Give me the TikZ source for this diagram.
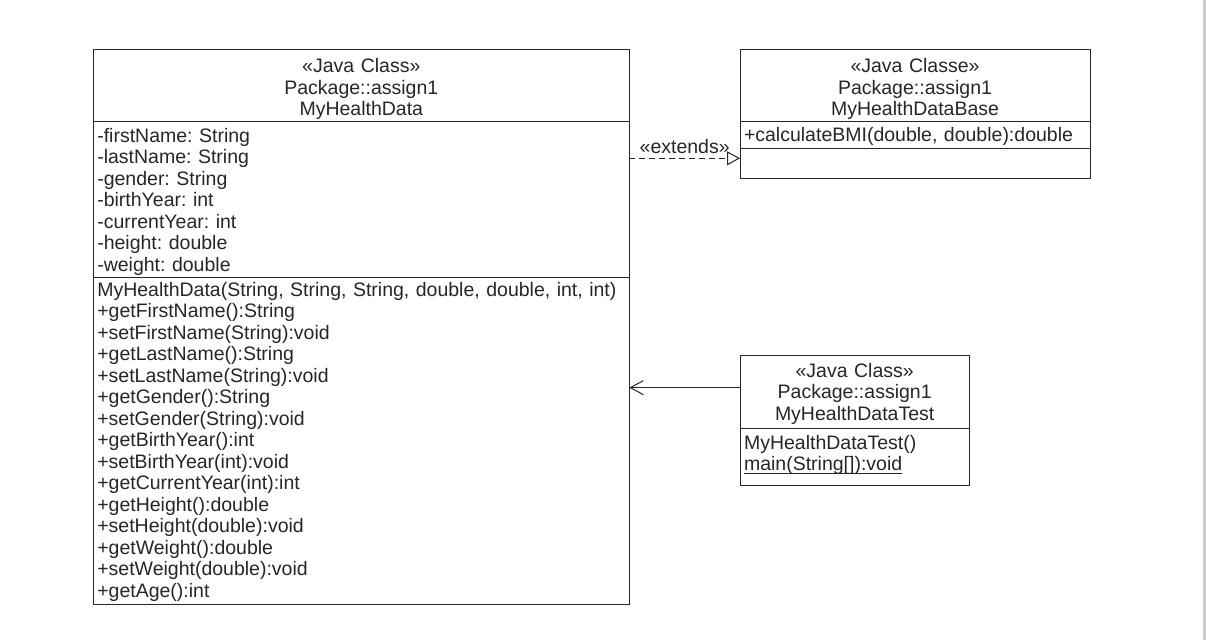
\documentclass[tikz,border=0pt]{standalone}
\usepackage{fontspec}
\setmainfont{Liberation Sans}
\usetikzlibrary{arrows.meta,positioning}

\definecolor{umlgray}{RGB}{38,38,38}
\definecolor{edgegray}{RGB}{205,205,209}
\newcommand{\umlfont}{\fontsize{19.5pt}{21.5pt}\selectfont\frenchspacing}
% static members are underlined close to the baseline
\newcommand{\staticop}[1]{\leavevmode\setbox0\hbox{#1}\rlap{\rule[-3pt]{\wd0}{1pt}}\box0}

\tikzset{
  compart/.style={draw=umlgray, line width=1pt, inner xsep=4pt, inner ysep=0pt,
    outer sep=0pt, anchor=north west, font=\umlfont, text=umlgray, align=left},
  classhead/.style={compart, align=center},
  rows/.style 2 args={text height=#1pt, text depth=#2pt},
  extendsarrow/.style={draw=umlgray, line width=1pt, dash pattern=on 6pt off 4pt,
    -{Triangle[open, length=13pt, width=14pt, fill=white]}},
  usearrow/.style={draw=umlgray, line width=1pt,
    -{Straight Barb[length=13pt, width=14pt]}},
}

\begin{document}
\begin{tikzpicture}[x=1pt, y=-1pt]
  \useasboundingbox (0,0) rectangle (1206,640);
  \fill[edgegray] (1203,0) rectangle (1206,640);

  % MyHealthData
  \node[classhead, text width=528pt, rows={23.5}{48.9}] (datahead) at (93.3,49.3)
    {«Java Class»\\Package::assign1\\MyHealthData};
  \node[compart, text width=528pt, rows={20.3}{135.7}] (dataattr) at (datahead.south west)
    {-firstName: String\\-lastName: String\\-gender: String\\-birthYear: int\\
     -currentYear: int\\-height: double\\-weight: double};
  \node[compart, text width=528pt, rows={18.3}{308.3}] (dataops) at (dataattr.south west)
    {MyHealthData(String, String, String, double, double, int, int)\\
     +getFirstName():String\\+setFirstName(String):void\\
     +getLastName():String\\+setLastName(String):void\\
     +getGender():String\\+setGender(String):void\\
     +getBirthYear():int\\+setBirthYear(int):void\\
     +getCurrentYear(int):int\\
     +getHeight():double\\+setHeight(double):void\\
     +getWeight():double\\+setWeight(double):void\\
     +getAge():int};

  % MyHealthDataBase
  \node[classhead, text width=342pt, rows={23.5}{48.9}] (basehead) at (740,49.3)
    {«Java Classe»\\Package::assign1\\MyHealthDataBase};
  \node[compart, text width=342pt, rows={20}{6.6}] (baseops) at (basehead.south west)
    {+calculateBMI(double, double):double};
  \node[compart, text width=342pt, rows={0}{30}] (baseempty) at (baseops.south west) {};

  % MyHealthDataTest
  \node[classhead, text width=221.3pt, rows={22.3}{51}] (testhead) at (740,355)
    {«Java Class»\\Package::assign1\\MyHealthDataTest};
  \node[compart, text width=221.3pt, rows={20.7}{36}] (testops) at (testhead.south west)
    {MyHealthDataTest()\\\staticop{main(String[]):void}};

  % connectors
  \coordinate (extend) at ([yshift=5pt]baseempty.west);
  \draw[extendsarrow] (extend -| dataattr.east) -- (extend)
    node[midway, above, inner sep=4pt, font=\umlfont, text=umlgray] (extlabel) {«extends»};
  \coordinate (uses) at ([yshift=4pt]testhead.west);
  \draw[usearrow] (uses) -- (uses -| dataops.east);
\end{tikzpicture}
\end{document}
